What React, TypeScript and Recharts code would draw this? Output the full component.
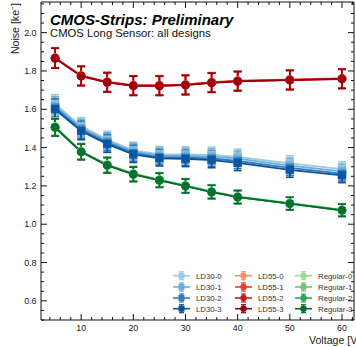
import React from 'react';
import { ComposedChart, Line, XAxis, YAxis, ErrorBar, Customized } from 'recharts';

const FONT = '"Liberation Sans", Arial, Helvetica, sans-serif';

const voltages = [5, 10, 15, 20, 25, 30, 35, 40, 50, 60];

const ld30_0 = [1.628, 1.512, 1.442, 1.386, 1.366, 1.364, 1.362, 1.352, 1.318, 1.288];
const ld30_1 = [1.618, 1.503, 1.434, 1.379, 1.358, 1.356, 1.353, 1.342, 1.306, 1.276];
const ld30_2 = [1.608, 1.494, 1.426, 1.371, 1.350, 1.347, 1.343, 1.330, 1.294, 1.264];
const ld30_3 = [1.600, 1.486, 1.418, 1.364, 1.344, 1.341, 1.335, 1.320, 1.284, 1.255];

const ld55_0 = [1.870, 1.777, 1.744, 1.726, 1.726, 1.730, 1.742, 1.750, 1.756, 1.762];
const ld55_1 = [1.868, 1.775, 1.742, 1.724, 1.724, 1.728, 1.740, 1.748, 1.754, 1.760];
const ld55_2 = [1.867, 1.774, 1.741, 1.723, 1.723, 1.727, 1.739, 1.747, 1.753, 1.759];
const ld55_3 = [1.866, 1.773, 1.740, 1.722, 1.722, 1.726, 1.738, 1.746, 1.752, 1.758];

const reg_0 = [1.510, 1.382, 1.312, 1.265, 1.233, 1.203, 1.172, 1.145, 1.111, 1.076];
const reg_1 = [1.508, 1.380, 1.310, 1.263, 1.231, 1.201, 1.170, 1.143, 1.109, 1.074];
const reg_2 = [1.506, 1.378, 1.308, 1.261, 1.230, 1.200, 1.169, 1.142, 1.108, 1.073];
const reg_3 = [1.505, 1.377, 1.307, 1.260, 1.229, 1.199, 1.168, 1.141, 1.107, 1.072];

const ld30Err = [0.048, 0.045, 0.043, 0.042, 0.040, 0.040, 0.040, 0.040, 0.039, 0.038];
const ld55Err = [0.052, 0.050, 0.050, 0.050, 0.050, 0.050, 0.050, 0.050, 0.050, 0.050];
const regErr = [0.045, 0.041, 0.040, 0.038, 0.037, 0.036, 0.035, 0.034, 0.033, 0.032];

const xTicks = [4, 6, 8, 10, 12, 14, 16, 18, 20, 22, 24, 26, 28, 30, 32, 34, 36, 38, 40, 42, 44, 46, 48, 50, 52, 54, 56, 58, 60, 62];
const xLabels = [10, 20, 30, 40, 50, 60];
const yTicks = [0.5, 0.55, 0.6, 0.65, 0.7, 0.75, 0.8, 0.85, 0.9, 0.95, 1.0, 1.05, 1.1, 1.15, 1.2, 1.25, 1.3, 1.35, 1.4, 1.45, 1.5, 1.55, 1.6, 1.65, 1.7, 1.75, 1.8, 1.85, 1.9, 1.95, 2.0, 2.05, 2.1, 2.15];
const yLabels = [0.6, 0.8, 1.0, 1.2, 1.4, 1.6, 1.8, 2.0];

type Shape = 'square' | 'circle';
interface Series { key: string; name: string; color: string; shape: Shape; values: number[]; err: number[] }

const series: Series[] = [
  { key: 'ld30_0', name: 'LD30-0', color: '#9ecae1', shape: 'square', values: ld30_0, err: ld30Err },
  { key: 'ld30_1', name: 'LD30-1', color: '#6baed6', shape: 'square', values: ld30_1, err: ld30Err },
  { key: 'ld30_2', name: 'LD30-2', color: '#2f7cc0', shape: 'square', values: ld30_2, err: ld30Err },
  { key: 'ld30_3', name: 'LD30-3', color: '#08519c', shape: 'square', values: ld30_3, err: ld30Err },
  { key: 'ld55_0', name: 'LD55-0', color: '#fc8d6a', shape: 'circle', values: ld55_0, err: ld55Err },
  { key: 'ld55_1', name: 'LD55-1', color: '#ef3b2c', shape: 'circle', values: ld55_1, err: ld55Err },
  { key: 'ld55_2', name: 'LD55-2', color: '#cb181d', shape: 'circle', values: ld55_2, err: ld55Err },
  { key: 'ld55_3', name: 'LD55-3', color: '#99000d', shape: 'circle', values: ld55_3, err: ld55Err },
  { key: 'reg_0', name: 'Regular-0', color: '#a1d99b', shape: 'circle', values: reg_0, err: regErr },
  { key: 'reg_1', name: 'Regular-1', color: '#74c476', shape: 'circle', values: reg_1, err: regErr },
  { key: 'reg_2', name: 'Regular-2', color: '#31a354', shape: 'circle', values: reg_2, err: regErr },
  { key: 'reg_3', name: 'Regular-3', color: '#006d2c', shape: 'circle', values: reg_3, err: regErr },
];

const data = voltages.map((v, i) => {
  const row: Record<string, number> = { v };
  series.forEach((s) => {
    row[s.key] = s.values[i];
    row[s.key + '_err'] = s.err[i];
  });
  return row;
});

const isMajorX = (v: number) => xLabels.some((l) => Math.abs(l - v) < 1e-6);
const isMajorY = (v: number) => yLabels.some((l) => Math.abs(l - v) < 1e-6);

const BottomTick = (p: any) => {
  const { x, y, payload } = p;
  const major = isMajorX(payload.value);
  return (
    <g>
      <line x1={x} x2={x} y1={y} y2={y - (major ? 6 : 3)} stroke="#111" strokeWidth={1} />
      {major && (
        <text x={x} y={y + 10.5} textAnchor="middle" fontSize={8.9} fontFamily={FONT} fill="#222">
          {payload.value}
        </text>
      )}
    </g>
  );
};

const TopTick = (p: any) => {
  const { x, y, payload } = p;
  const major = isMajorX(payload.value);
  return <line x1={x} x2={x} y1={y} y2={y + (major ? 6 : 3)} stroke="#111" strokeWidth={1} />;
};

const LeftTick = (p: any) => {
  const { x, y, payload } = p;
  const major = isMajorY(payload.value);
  return (
    <g>
      <line x1={x} x2={x + (major ? 6 : 3)} y1={y} y2={y} stroke="#111" strokeWidth={1} />
      {major && (
        <text x={x - 4.5} y={y + 3.1} textAnchor="end" fontSize={8.9} fontFamily={FONT} fill="#222">
          {Number(payload.value).toFixed(1)}
        </text>
      )}
    </g>
  );
};

const RightTick = (p: any) => {
  const { x, y, payload } = p;
  const major = isMajorY(payload.value);
  return <line x1={x} x2={x - (major ? 6 : 3)} y1={y} y2={y} stroke="#111" strokeWidth={1} />;
};

const renderMarker = (p: any, s: Series) => {
  const { cx, cy, index } = p;
  if (cx == null || cy == null) return <g key={`${s.key}-${index}`} />;
  if (s.shape === 'square') {
    return (
      <rect key={`${s.key}-${index}`} x={cx - 4.2} y={cy - 4.2} width={8.4} height={8.4} fill={s.color} fillOpacity={0.9} stroke="none" />
    );
  }
  return <circle key={`${s.key}-${index}`} cx={cx} cy={cy} r={4.4} fill={s.color} fillOpacity={0.9} stroke="none" />;
};

const legendCols = [
  { x0: 173, items: series.slice(0, 4) },
  { x0: 235, items: series.slice(4, 8) },
  { x0: 295, items: series.slice(8, 12) },
];
const legendRows = [275.7, 287, 298, 308.7];

const Overlay = () => (
  <g>
    <text x={50} y={25} fontSize={15} fontWeight="bold" fontStyle="italic" fontFamily={FONT} fill="#000">
      CMOS-Strips: Preliminary
    </text>
    <text x={50} y={37} fontSize={11.3} fontFamily={FONT} fill="#111">
      CMOS Long Sensor: all designs
    </text>
    <text
      x={18.5}
      y={3}
      transform="rotate(-90, 18.5, 3)"
      textAnchor="end"
      fontSize={10.6}
      fontFamily={FONT}
      fill="#222"
    >
      Noise [ke⁻]
    </text>
    <text x={309} y={344} fontSize={10.6} fontFamily={FONT} fill="#222">
      Voltage [V]
    </text>
    {legendCols.map((col, ci) =>
      col.items.map((s, ri) => {
        const y = legendRows[ri];
        const mx = col.x0 + 8.5;
        return (
          <g key={`lg-${ci}-${ri}`}>
            <line x1={col.x0} x2={col.x0 + 17} y1={y} y2={y} stroke={s.color} strokeWidth={1.6} />
            <line x1={mx} x2={mx} y1={y - 4} y2={y + 4} stroke={s.color} strokeWidth={1.3} />
            <line x1={mx - 2.5} x2={mx + 2.5} y1={y - 4} y2={y - 4} stroke={s.color} strokeWidth={1.2} />
            <line x1={mx - 2.5} x2={mx + 2.5} y1={y + 4} y2={y + 4} stroke={s.color} strokeWidth={1.2} />
            {s.shape === 'square' ? (
              <rect x={mx - 3} y={y - 3} width={6} height={6} fill={s.color} />
            ) : (
              <circle cx={mx} cy={y} r={3.2} fill={s.color} />
            )}
            <text x={col.x0 + 23} y={y + 2.8} fontSize={7.8} fontFamily={FONT} fill="#333">
              {s.name}
            </text>
          </g>
        );
      })
    )}
  </g>
);

export default function App() {
  return (
    <div style={{ position: 'absolute', left: 0, top: 0, width: 356, height: 347, background: '#fff', overflow: 'hidden' }}>
      <ComposedChart width={356} height={347} data={data} margin={{ top: 1, right: 1, left: 40, bottom: 26 }}>
        <XAxis
          xAxisId="b"
          dataKey="v"
          type="number"
          domain={[2.3, 62.3]}
          allowDataOverflow
          ticks={xTicks}
          interval={0}
          height={1}
          tickSize={0}
          tickMargin={0}
          tickLine={false}
          tick={BottomTick}
          axisLine={{ stroke: '#111', strokeWidth: 1 }}
        />
        <XAxis
          xAxisId="t"
          orientation="top"
          dataKey="v"
          type="number"
          domain={[2.3, 62.3]}
          allowDataOverflow
          ticks={xTicks}
          interval={0}
          height={1}
          tickSize={0}
          tickMargin={0}
          tickLine={false}
          tick={TopTick}
          axisLine={{ stroke: '#111', strokeWidth: 1 }}
        />
        <YAxis
          yAxisId="l"
          type="number"
          domain={[0.5, 2.16]}
          allowDataOverflow
          ticks={yTicks}
          interval={0}
          width={1}
          tickSize={0}
          tickMargin={0}
          tickLine={false}
          tick={LeftTick}
          axisLine={{ stroke: '#111', strokeWidth: 1 }}
        />
        <YAxis
          yAxisId="r"
          orientation="right"
          type="number"
          domain={[0.5, 2.16]}
          allowDataOverflow
          ticks={yTicks}
          interval={0}
          width={1}
          tickSize={0}
          tickMargin={0}
          tickLine={false}
          tick={RightTick}
          axisLine={{ stroke: '#111', strokeWidth: 1 }}
        />
        {series.map((s) => (
          <Line
            key={s.key}
            xAxisId="b"
            yAxisId="l"
            type="linear"
            dataKey={s.key}
            name={s.name}
            stroke={s.color}
            strokeWidth={1.8}
            isAnimationActive={false}
            activeDot={false}
            dot={(p: any) => renderMarker(p, s)}
          >
            <ErrorBar dataKey={s.key + '_err'} direction="y" width={4} strokeWidth={1.6} stroke={s.color} isAnimationActive={false} />
          </Line>
        ))}
        <Customized component={Overlay} />
      </ComposedChart>
    </div>
  );
}
